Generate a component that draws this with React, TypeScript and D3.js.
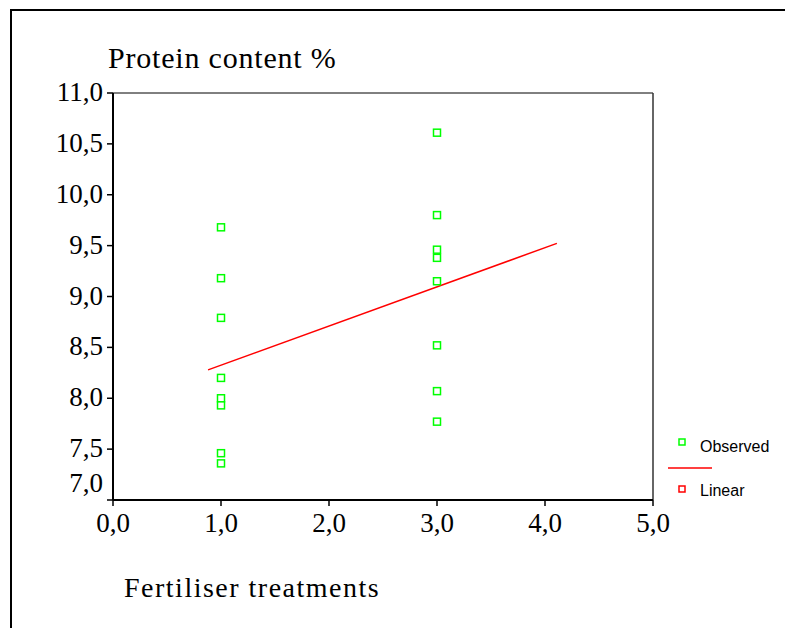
import React from "react"
import * as d3 from "d3"

const treatment1 = [9.68, 9.18, 8.79, 8.2, 8.0, 7.93, 7.46, 7.36]
const treatment3 = [10.61, 9.8, 9.46, 9.38, 9.15, 8.52, 8.07, 7.77]
const fitRange = [0.88, 4.11]
const xTicks = [0, 1, 2, 3, 4, 5]
const yTicks = [7, 7.5, 8, 8.5, 9, 9.5, 10, 10.5, 11]

const width = 785
const height = 628
const serif = "'Liberation Serif', 'Times New Roman', serif"
const sans = "'Liberation Sans', Arial, sans-serif"
const green = "#00ff00"
const red = "#ff0000"

const fmt = (v: number) => v.toFixed(1).replace(".", ",")

const App = () => {
  const left = 113
  const right = 653
  const top = 93
  const bottom = 500

  const x = d3.scaleLinear().domain([0, 5]).range([left, right])
  const y = d3.scaleLinear().domain([7, 11]).range([bottom, top])

  const points = [
    ...treatment1.map((v) => [1, v]),
    ...treatment3.map((v) => [3, v]),
  ]

  // least squares fit of the observed points
  const mx = d3.mean(points, (p) => p[0]) as number
  const my = d3.mean(points, (p) => p[1]) as number
  const slope =
    (d3.sum(points, (p) => (p[0] - mx) * (p[1] - my)) as number) /
    (d3.sum(points, (p) => (p[0] - mx) ** 2) as number)
  const intercept = my - slope * mx
  const fitLine = d3
    .line<number>()
    .x((d) => x(d))
    .y((d) => y(intercept + slope * d))(fitRange)

  const sq = 7

  return (
    <svg
      width={width}
      height={height}
      style={{ position: "absolute", left: 0, top: 0, background: "#fff", display: "block" }}
    >
      {/* outer frame: only top and left edges show */}
      <line x1={10} x2={width} y1={10} y2={10} stroke="#000" strokeWidth={2} />
      <line x1={11} x2={11} y1={9} y2={height} stroke="#000" strokeWidth={2} />

      <text x={108} y={68} fontFamily={serif} fontSize={30} letterSpacing={0.8}>
        Protein content %
      </text>
      <text x={124} y={597} fontFamily={serif} fontSize={28} letterSpacing={1.5}>
        Fertiliser treatments
      </text>

      {/* plot frame */}
      <line x1={left} x2={right} y1={top} y2={top} stroke="#000" strokeWidth={1} />
      <line x1={right} x2={right} y1={top} y2={bottom} stroke="#333" strokeWidth={1.5} />
      <line x1={left} x2={left} y1={top} y2={bottom} stroke="#000" strokeWidth={2} />
      <line x1={left} x2={right} y1={bottom} y2={bottom} stroke="#000" strokeWidth={2} />

      {yTicks.map((t) => (
        <g key={"y" + t}>
          <line x1={left - 6} x2={left} y1={y(t)} y2={y(t)} stroke="#000" strokeWidth={1.5} />
          <text
            x={left - 10}
            y={t === 7 ? y(t) - 8 : y(t) + 8}
            textAnchor="end"
            fontFamily={serif}
            fontSize={27}
          >
            {fmt(t)}
          </text>
        </g>
      ))}

      {xTicks.map((t) => (
        <g key={"x" + t}>
          <line x1={x(t)} x2={x(t)} y1={bottom} y2={bottom + 6} stroke="#000" strokeWidth={1.5} />
          <text x={x(t)} y={bottom + 32} textAnchor="middle" fontFamily={serif} fontSize={27}>
            {fmt(t)}
          </text>
        </g>
      ))}

      <path d={fitLine || ""} fill="none" stroke={red} strokeWidth={1.5} />

      {points.map((p, i) => (
        <rect
          key={i}
          x={x(p[0]) - sq / 2}
          y={y(p[1]) - sq / 2}
          width={sq}
          height={sq}
          fill="#fff"
          stroke={green}
          strokeWidth={1.5}
        />
      ))}

      {/* legend */}
      <rect x={679} y={439} width={6} height={6} fill="#fff" stroke={green} strokeWidth={1.5} />
      <text x={700} y={452} fontFamily={sans} fontSize={16}>
        Observed
      </text>
      <line x1={668} x2={712} y1={468} y2={468} stroke={red} strokeWidth={1.5} />
      <rect x={679} y={486} width={6} height={6} fill="#fff" stroke={red} strokeWidth={1.5} />
      <text x={700} y={496} fontFamily={sans} fontSize={16}>
        Linear
      </text>
    </svg>
  )
}

export default App
